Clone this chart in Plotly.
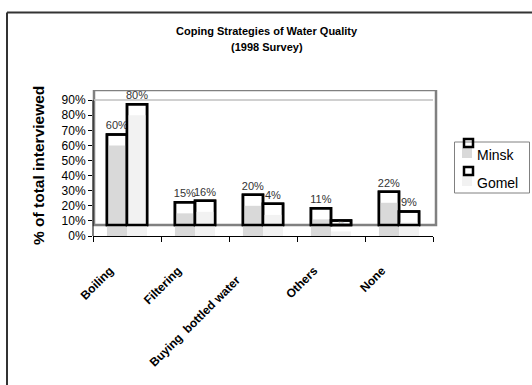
import plotly.graph_objects as go

categories = ["Boiling", "Filtering", "Buying\u00a0 bottled water\u00a0\u00a0\u00a0\u00a0", "Others", "None"]
series_names = ["Minsk", "Gomel"]
minsk = [60, 15, 20, 11, 22]
gomel = [80, 16, 14, 3, 9]
minsk_labels = ["60%", "15%", "20%", "11%", "22%"]
gomel_labels = ["80%", "16%", "4%", "3%", "9%"]
y_ticks = [0, 10, 20, 30, 40, 50, 60, 70, 80, 90]
y_ticktext = [f"{v}%" for v in y_ticks]

DEPTH = 7.3  # 3D depth offset of the outlined bar fronts
FONT = "Liberation Sans, Arial, sans-serif"
FILLS = {"Minsk": "#d9d9d9", "Gomel": "#f2f2f2"}

# plot area on the page: x 93..433, y 90..236 (body margin removed by post_script)
PL, PT, PR, PB = 93, 90, 433, 236
W, H = 532, 385
L, T, R, B = PL, PT, W - PR, H - PB
PW, PH = PR - PL, PB - PT
def px(xp):
    return (xp - PL) / PW
def py(yp):
    return (PB - yp) / PH

fig = go.Figure()

def add_series(name, vals, labels, positions):
    grp = name
    fig.add_trace(go.Bar(x=categories, y=vals, base=DEPTH, offsetgroup=grp, name=name,
                         showlegend=False,
                         marker=dict(color="white", line=dict(color="black", width=2.5)),
                         hoverinfo="skip"))
    fig.add_trace(go.Bar(x=categories, y=vals, base=0, offsetgroup=grp, name=name,
                         showlegend=False,
                         marker=dict(color=FILLS[name], line=dict(width=0)), hoverinfo="skip"))
    fig.add_trace(go.Bar(x=categories, y=vals, base=DEPTH, offsetgroup=grp, name=name,
                         showlegend=False,
                         marker=dict(color="rgba(0,0,0,0)", line=dict(color="black", width=2.5)),
                         text=labels, textposition=positions, cliponaxis=False,
                         constraintext="inside", insidetextanchor="end",
                         textfont=dict(family=FONT, size=11, color="#333333"),
                         insidetextfont=dict(family=FONT, size=11, color="#777777"),
                         outsidetextfont=dict(family=FONT, size=11, color="#333333"),
                         hoverinfo="skip"))

add_series("Minsk", minsk, minsk_labels, ["outside"] * 5)
add_series("Gomel", gomel, gomel_labels,
           ["outside", "outside", "outside", "inside", "outside"])

shapes = [
    # back wall frame
    dict(type="rect", xref="paper", yref="y", x0=px(94), x1=px(436), y0=DEPTH, y1=96.7,
         line=dict(color="#808080", width=2.5), layer="below"),
    # top gridline at 90%
    dict(type="line", xref="paper", yref="y", x0=px(94), x1=px(433), y0=90, y1=90,
         line=dict(color="#c0c0c0", width=1.5), layer="below"),
    # y axis line
    dict(type="line", xref="paper", yref="y", x0=0, x1=0, y0=0, y1=90,
         line=dict(color="black", width=1)),
    # outer chart border
    dict(type="line", xref="paper", yref="paper", x0=px(7), x1=px(532), y0=py(12.5), y1=py(12.5),
         line=dict(color="#333333", width=2)),
    dict(type="line", xref="paper", yref="paper", x0=px(7), x1=px(7), y0=py(12.5), y1=py(385),
         line=dict(color="#333333", width=2)),
    # legend box
    dict(type="rect", xref="paper", yref="paper", x0=px(454.5), x1=px(529.5), y0=py(193), y1=py(142),
         line=dict(color="#808080", width=1), fillcolor="white"),
]

annotations = [
    dict(text="<b>Coping Strategies of Water Quality</b>", xref="paper", yref="paper",
         x=px(267), y=py(31), showarrow=False, xanchor="center", yanchor="middle",
         font=dict(family=FONT, size=11, color="black")),
    dict(text="<b>(1998 Survey)</b>", xref="paper", yref="paper",
         x=px(267), y=py(47), showarrow=False, xanchor="center", yanchor="middle",
         font=dict(family=FONT, size=11, color="black")),
    dict(text="<b>% of total interviewed</b>", xref="paper", yref="paper",
         x=px(38), y=py(166), showarrow=False, textangle=-90, xanchor="center", yanchor="middle",
         font=dict(family=FONT, size=15.5, color="black")),
]

# legend entries (3D-style swatch: gray floor square + black outlined front square)
for i, name in enumerate(series_names):
    top = 138 + i * 28
    shapes.append(dict(type="rect", xref="paper", yref="paper", x0=px(462), x1=px(472),
                       y0=py(top + 20), y1=py(top + 10), line=dict(width=0),
                       fillcolor=FILLS[name]))
    shapes.append(dict(type="rect", xref="paper", yref="paper", x0=px(464), x1=px(473),
                       y0=py(top + 9), y1=py(top + 1), line=dict(color="black", width=2.5),
                       fillcolor="rgba(0,0,0,0)"))
    annotations.append(dict(text=name, xref="paper", yref="paper", x=px(475), y=py(top + 17),
                            showarrow=False, xanchor="left", yanchor="middle",
                            font=dict(family=FONT, size=14, color="black")))

fig.update_layout(
    width=W, height=H,
    margin=dict(l=L, r=R, t=T, b=B, pad=0, autoexpand=False),
    paper_bgcolor="white", plot_bgcolor="white",
    barmode="group", bargap=0.41, bargroupgap=0,
    showlegend=False,
    shapes=shapes, annotations=annotations,
    font=dict(family=FONT, color="black"),
)

fig.update_xaxes(type="category", range=[-0.5, 4.5], tickson="boundaries",
                 ticks="outside", ticklen=5, tickcolor="black", showline=True,
                 linecolor="black", linewidth=1, showgrid=False, tickangle=-45,
                 ticklabelshift=-17, ticklabelstandoff=22,
                 tickfont=dict(family=FONT, size=12, color="black", weight="bold"),
                 fixedrange=True)
fig.update_yaxes(range=[0, 96.7], tickvals=y_ticks, ticktext=y_ticktext, ticks="outside",
                 ticklen=4, tickcolor="black", showline=False, showgrid=False, zeroline=False,
                 tickfont=dict(family=FONT, size=12, color="black"), fixedrange=True)

fig.write_html("out.html", config={"displayModeBar": False},
               post_script="document.body.style.margin='0';document.body.style.overflow='hidden';")
